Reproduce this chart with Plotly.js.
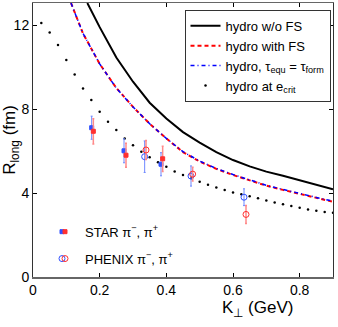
<!DOCTYPE html>
<html>
<head>
<meta charset="utf-8">
<script src="https://cdn.plot.ly/plotly-3.0.1.min.js"></script>
<style>
  html, body { margin: 0; padding: 0; background: #fff; }
  #plot { width: 338px; height: 327px; }
</style>
</head>
<body>
<div id="plot"></div>
<script>
// hydro curves (K_perp in GeV, R_long in fm)
const kNoFS = [0.163, 0.2, 0.25, 0.3, 0.35, 0.4, 0.45, 0.5, 0.55, 0.6, 0.65, 0.7, 0.75, 0.8, 0.85, 0.9];
const rNoFS = [13.05, 11.9, 10.45, 9.3, 8.3, 7.55, 6.9, 6.4, 5.95, 5.57, 5.27, 5.02, 4.82, 4.6, 4.38, 4.18];

const kFS = [0.114, 0.15, 0.2, 0.25, 0.3, 0.35, 0.4, 0.45, 0.5, 0.55, 0.6, 0.65, 0.7, 0.75, 0.8, 0.85, 0.9];
const rFS = [13.05, 11.6, 10.15, 9.0, 8.1, 7.3, 6.6, 5.95, 5.5, 5.15, 4.86, 4.6, 4.35, 4.15, 3.95, 3.77, 3.58];
const rEqu = [13.05, 11.6, 10.15, 9.0, 8.1, 7.3, 6.6, 5.97, 5.52, 5.17, 4.88, 4.62, 4.37, 4.17, 3.97, 3.79, 3.61];

const kCrit = [0.025, 0.05, 0.075, 0.1, 0.125, 0.15, 0.175, 0.2, 0.225, 0.25, 0.275, 0.3,
               0.325, 0.35, 0.375, 0.4, 0.425, 0.45, 0.475, 0.5, 0.525, 0.55, 0.575, 0.6,
               0.625, 0.65, 0.675, 0.7, 0.725, 0.75, 0.775, 0.8, 0.825, 0.85, 0.875, 0.9];
const rCrit = [12.1, 11.65, 11.05, 10.33, 9.65, 8.98, 8.43, 7.87, 7.4, 7.0, 6.6, 6.27,
               5.97, 5.7, 5.46, 5.25, 5.03, 4.86, 4.7, 4.54, 4.39, 4.26, 4.14, 4.03,
               3.94, 3.85, 3.75, 3.64, 3.55, 3.46, 3.38, 3.3, 3.22, 3.16, 3.1, 3.06];

// data
const kStarM = [0.176, 0.273, 0.384], rStarM = [7.11, 6.01, 5.37], eStarM = [0.55, 0.57, 0.55];
const kStarP = [0.181, 0.279, 0.389], rStarP = [6.94, 5.8, 5.63], eStarP = [0.6, 0.57, 0.6];
const kPhxM = [0.335, 0.474, 0.633], rPhxM = [5.73, 4.81, 3.8], ePhxM = [0.75, 0.48, 0.4];
const kPhxP = [0.339, 0.479, 0.639], rPhxP = [6.05, 4.9, 2.98], ePhxP = [0.45, 0.33, 0.43];

const blue = '#3050ff', blueErr = '#6f88ff';
const red = '#ff3030', redErr = '#ff8a8a';

function pts(x, y, e, sym, col, ecol, ew, name, legend, group) {
    return {
        x: x, y: y, type: 'scatter', mode: 'markers', name: name, legend: legend, legendgroup: group,
        marker: { symbol: sym, size: sym === 'square' ? 4 : 6, color: col, line: { color: col, width: 1 } },
        error_y: { type: 'data', array: e, visible: true, color: ecol, thickness: ew, width: 1 }
    };
}

const traces = [
    { x: kNoFS, y: rNoFS, type: 'scatter', mode: 'lines', name: 'hydro w/o FS',
      line: { color: '#000', width: 2 } },
    { x: kFS, y: rFS, type: 'scatter', mode: 'lines', name: 'hydro with FS',
      line: { color: '#ff0000', width: 2, dash: '4px,3px' } },
    { x: kFS, y: rEqu, type: 'scatter', mode: 'lines', name: 'hydro, τ<sub>equ</sub> = τ<sub>form</sub>',
      line: { color: '#0000ff', width: 1.5, dash: '4px,3px,1px,3px' } },
    { x: kCrit, y: rCrit, type: 'scatter', mode: 'markers', name: 'hydro at e<sub>crit</sub>',
      marker: { color: '#000', size: 2.5 } },
    pts(kStarM, rStarM, eStarM, 'square', blue, blueErr, 1, ' ', 'legend2', 'star'),
    pts(kPhxM, rPhxM, ePhxM, 'circle-open', blue, blueErr, 1, ' ', 'legend2', 'phx'),
    pts(kStarP, rStarP, eStarP, 'square', red, redErr, 1.5, 'STAR π<sup>−</sup>, π<sup>+</sup>', 'legend3', 'star'),
    pts(kPhxP, rPhxP, ePhxP, 'circle-open', red, redErr, 1.5, 'PHENIX π<sup>−</sup>, π<sup>+</sup>', 'legend3', 'phx')
];

const font = 'Liberation Sans, Arial, sans-serif';

const layout = {
    width: 338, height: 327,
    margin: { l: 33, r: 5, t: 3, b: 50 },
    paper_bgcolor: '#fff', plot_bgcolor: '#fff',
    font: { family: font, size: 14, color: '#000' },
    showlegend: true,
    xaxis: {
        range: [0, 0.9], tickvals: [0, 0.2, 0.4, 0.6, 0.8], ticktext: ['0', '0.2', '0.4', '0.6', '0.8'],
        ticks: 'inside', ticklen: 4, tickcolor: '#000', mirror: 'ticks',
        showline: true, linecolor: '#666', linewidth: 1.5, showgrid: false, zeroline: false,
        tickfont: { size: 14 }
    },
    yaxis: {
        range: [0, 13.05], tickvals: [0, 4, 8, 12],
        ticks: 'inside', ticklen: 4, tickcolor: '#000', mirror: 'ticks',
        showline: true, linecolor: '#333', linewidth: 1, showgrid: false, zeroline: false,
        tickfont: { size: 14 },
        title: { text: 'R<sub>long</sub> (fm)', font: { size: 17 }, standoff: 4 }
    },
    legend: {
        x: 0.505, y: 0.975, xanchor: 'left', yanchor: 'top',
        bgcolor: '#fff', bordercolor: '#333', borderwidth: 1,
        font: { size: 13 }, itemwidth: 30, tracegroupgap: 0
    },
    legend2: {
        x: 0.03, y: 0.22, xanchor: 'left', yanchor: 'top', traceorder: 'grouped', tracegroupgap: 7,
        bgcolor: 'rgba(0,0,0,0)', font: { size: 13 }, itemwidth: 30
    },
    legend3: {
        x: 0.04, y: 0.22, xanchor: 'left', yanchor: 'top', traceorder: 'grouped', tracegroupgap: 7,
        bgcolor: 'rgba(0,0,0,0)', font: { size: 13 }, itemwidth: 30
    },
    annotations: [{
        text: 'K<sub>⊥</sub> (GeV)', xref: 'paper', yref: 'paper',
        x: 0.747, y: -0.115, xanchor: 'center', yanchor: 'middle',
        showarrow: false, font: { size: 17 }
    }]
};

Plotly.newPlot('plot', traces, layout, { displayModeBar: false, staticPlot: true });
</script>
</body>
</html>
